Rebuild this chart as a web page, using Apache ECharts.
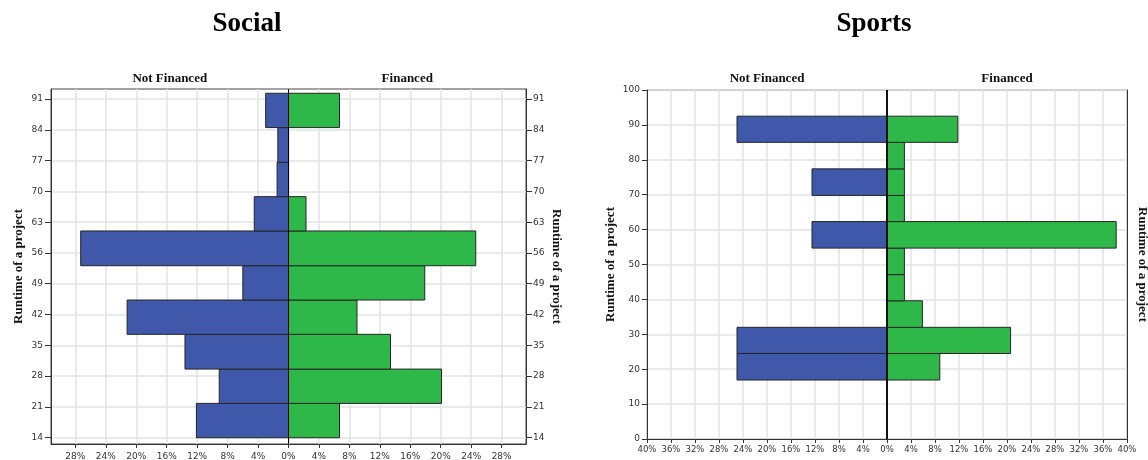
<!DOCTYPE html>
<html><head><meta charset="utf-8">
<script src="https://cdn.jsdelivr.net/npm/echarts@6/dist/echarts.min.js"></script>
<style>html,body{margin:0;padding:0;background:#fff}#c{width:1148px;height:460px}</style>
</head><body><div id="c"></div>
<script>
// ---- Social panel data (percent of projects per runtime bin) ----
const socialBinStarts = [14.0, 21.8, 29.6, 37.5, 45.3, 53.1, 61.0, 68.8, 76.6, 84.5];
const socialBinEnds   = [21.8, 29.6, 37.5, 45.3, 53.1, 61.0, 68.8, 76.6, 84.5, 92.3];
const socialNotFinanced = [12.1, 9.1, 13.6, 21.2, 6.0, 27.3, 4.5, 1.5, 1.4, 3.0];
const socialFinanced    = [6.7, 20.1, 13.4, 9.0, 17.9, 24.6, 2.3, 0, 0, 6.7];
const socialYTicks = [14, 21, 28, 35, 42, 49, 56, 63, 70, 77, 84, 91];
const socialXTicks = [-28, -24, -20, -16, -12, -8, -4, 0, 4, 8, 12, 16, 20, 24, 28];

// ---- Sports panel data ----
const sportsBinStarts = [16.9, 24.5, 32.0, 39.6, 47.1, 54.7, 62.3, 69.8, 77.4, 85.0];
const sportsBinEnds   = [24.5, 32.0, 39.6, 47.1, 54.7, 62.3, 69.8, 77.4, 85.0, 92.5];
const sportsNotFinanced = [25.0, 25.0, 0, 0, 0, 12.5, 0, 12.5, 0, 25.0];
const sportsFinanced    = [8.8, 20.6, 5.9, 2.9, 2.9, 38.2, 2.9, 2.9, 2.9, 11.8];

const titles = ['Social', 'Sports'];
const sideLabels = ['Not Financed', 'Financed'];
const yName = 'Runtime of a project';

const BLUE = '#3f58a9', GREEN = '#2eb84a';
const SERIF = '"Liberation Serif", "Times New Roman", serif';
const SANS = '"DejaVu Sans", sans-serif';

function bins(starts, ends, vals, sign) {
  const out = [];
  for (let i = 0; i < vals.length; i++) if (vals[i] > 0) out.push([starts[i], ends[i], sign * vals[i]]);
  return out;
}
function renderBar(params, api) {
  const lo = api.value(0), hi = api.value(1), v = api.value(2);
  const p1 = api.coord([0, hi]), p2 = api.coord([v, lo]);
  return {
    type: 'rect',
    shape: { x: Math.min(p1[0], p2[0]), y: p1[1], width: Math.abs(p2[0] - p1[0]), height: p2[1] - p1[1] },
    style: { fill: api.visual('color'), stroke: '#262626', lineWidth: 1 }
  };
}
const pctFmt = v => Math.abs(v) + '%';
const labelStyle = { fontSize: 9, fontFamily: SANS, color: '#333' };
const nameStyle = { fontFamily: SERIF, fontWeight: 'bold', fontSize: 13, color: '#111' };
const gridLine = { show: true, lineStyle: { color: '#e3e3e3', width: 1.5 } };

// layout
const G = [
  { left: 51, top: 89, width: 475, height: 355 },
  { left: 647, top: 90, width: 480, height: 349 }
];
const titleX = [247, 874];

const graphic = [];
G.forEach((g, i) => {
  graphic.push({ type: 'text', x: titleX[i], y: 24, style: { text: titles[i], font: 'bold 27px ' + SERIF, fill: '#000', textAlign: 'center', textVerticalAlign: 'middle' } });
  graphic.push({ type: 'text', x: g.left + g.width / 4, y: 79, style: { text: sideLabels[0], font: 'bold 13px ' + SERIF, fill: '#111', textAlign: 'center', textVerticalAlign: 'middle' } });
  graphic.push({ type: 'text', x: g.left + 3 * g.width / 4, y: 79, style: { text: sideLabels[1], font: 'bold 13px ' + SERIF, fill: '#111', textAlign: 'center', textVerticalAlign: 'middle' } });
});

const option = {
  animation: false,
  backgroundColor: '#fff',
  graphic,
  grid: G.map(g => Object.assign({ show: true, borderColor: '#444', borderWidth: 1, backgroundColor: '#fff', containLabel: false, outerBoundsMode: 'none' }, g)),
  xAxis: [
    { gridIndex: 0, type: 'value', min: -31.2, max: 31.2,
      axisLine: { show: true, onZero: false, lineStyle: { color: '#333' } },
      axisTick: { show: true, length: 4, customValues: socialXTicks, lineStyle: { color: '#333' } },
      axisLabel: Object.assign({ customValues: socialXTicks, formatter: pctFmt, margin: 8 }, labelStyle),
      splitLine: gridLine },
    { gridIndex: 1, type: 'value', min: -40, max: 40, interval: 4,
      axisLine: { show: true, onZero: false, lineStyle: { color: '#333' } },
      axisTick: { show: true, length: 4, lineStyle: { color: '#333' } },
      axisLabel: Object.assign({ formatter: pctFmt, margin: 6, showMinLabel: true, showMaxLabel: true }, labelStyle, { fontSize: 8.5 }),
      splitLine: gridLine }
  ],
  yAxis: [
    { gridIndex: 0, type: 'value', min: 12.57, max: 93.27, position: 'left',
      axisLine: { show: true, onZero: false, lineStyle: { color: '#333' } },
      axisTick: { show: true, length: 6, customValues: socialYTicks, lineStyle: { color: '#333' } },
      axisLabel: Object.assign({ customValues: socialYTicks, margin: 8 }, labelStyle),
      splitLine: gridLine,
      name: yName, nameLocation: 'middle', nameRotate: 90, nameGap: 26, nameTextStyle: nameStyle },
    { gridIndex: 0, type: 'value', min: 12.57, max: 93.27, position: 'right',
      axisLine: { show: true, onZero: false, lineStyle: { color: '#333' } },
      axisTick: { show: true, length: 6, customValues: socialYTicks, lineStyle: { color: '#333' } },
      axisLabel: Object.assign({ customValues: socialYTicks, margin: 7 }, labelStyle),
      splitLine: { show: false },
      name: yName, nameLocation: 'middle', nameRotate: -90, nameGap: 24, nameTextStyle: nameStyle },
    { gridIndex: 1, type: 'value', min: 0, max: 100, interval: 10, position: 'left',
      axisLine: { show: true, onZero: false, lineStyle: { color: '#333' } },
      axisTick: { show: true, length: 5, lineStyle: { color: '#333' } },
      axisLabel: Object.assign({ margin: 7 }, labelStyle),
      splitLine: gridLine,
      name: yName, nameLocation: 'middle', nameRotate: 90, nameGap: 30, nameTextStyle: nameStyle },
    { gridIndex: 1, type: 'value', min: 0, max: 100, interval: 10, position: 'right',
      axisLine: { show: true, onZero: false, lineStyle: { color: '#333' } },
      axisTick: { show: false }, axisLabel: { show: false }, splitLine: { show: false },
      name: yName, nameLocation: 'middle', nameRotate: -90, nameGap: 9, nameTextStyle: nameStyle }
  ],
  series: [
    { type: 'custom', name: 'Social Not Financed', xAxisIndex: 0, yAxisIndex: 0, renderItem: renderBar, itemStyle: { color: BLUE },
      encode: { x: 2, y: [0, 1] }, data: bins(socialBinStarts, socialBinEnds, socialNotFinanced, -1) },
    { type: 'custom', name: 'Social Financed', xAxisIndex: 0, yAxisIndex: 0, renderItem: renderBar, itemStyle: { color: GREEN },
      encode: { x: 2, y: [0, 1] }, data: bins(socialBinStarts, socialBinEnds, socialFinanced, 1) },
    { type: 'line', xAxisIndex: 0, yAxisIndex: 0, symbol: 'none', z: 5, silent: true,
      lineStyle: { color: '#000', width: 1 }, data: [[0, 12.57], [0, 93.27]] },
    { type: 'custom', name: 'Sports Not Financed', xAxisIndex: 1, yAxisIndex: 2, renderItem: renderBar, itemStyle: { color: BLUE },
      encode: { x: 2, y: [0, 1] }, data: bins(sportsBinStarts, sportsBinEnds, sportsNotFinanced, -1) },
    { type: 'custom', name: 'Sports Financed', xAxisIndex: 1, yAxisIndex: 2, renderItem: renderBar, itemStyle: { color: GREEN },
      encode: { x: 2, y: [0, 1] }, data: bins(sportsBinStarts, sportsBinEnds, sportsFinanced, 1) },
    { type: 'line', xAxisIndex: 1, yAxisIndex: 2, symbol: 'none', z: 5, silent: true,
      lineStyle: { color: '#111', width: 2 }, data: [[0, 0], [0, 100]] }
  ]
};
const chart = echarts.init(document.getElementById('c'), null, { renderer: 'canvas' });
chart.setOption(option);
</script>
</body></html>
